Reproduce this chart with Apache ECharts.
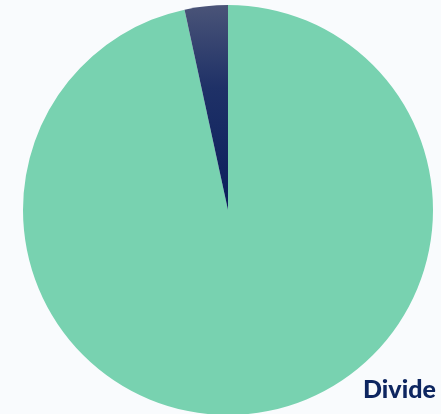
<!DOCTYPE html>
<html><head><meta charset="utf-8">
<script src="https://cdn.jsdelivr.net/npm/echarts@6/dist/echarts.min.js"></script>
<style>html,body{margin:0;padding:0;background:#f9fbfd;}#c{width:441px;height:414px;}</style>
</head><body><div id="c"></div>
<script>
const categories = ["Other", "Divide"];
const values = [96.6, 3.4];
const labelText = "Divide";
const chart = echarts.init(document.getElementById('c'));
const colors = [
  '#78d2b0',
  new echarts.graphic.LinearGradient(0, 0, 0, 1, [{offset: 0, color: '#4a5478'}, {offset: 0.4, color: '#1f3167'}, {offset: 1, color: '#0a1f5c'}])
];
chart.setOption({
  backgroundColor: '#f9fbfd',
  animation: false,
  title: {
    text: labelText, left: 358, top: 372, padding: 5,
    textStyle: {fontFamily: 'Lato', fontWeight: 900, fontSize: 25, color: '#0e2660'}
  },
  series: [{
    type: 'pie',
    center: [228, 210],
    radius: [0, 205],
    startAngle: 90,
    clockwise: true,
    label: {show: false},
    labelLine: {show: false},
    itemStyle: {borderWidth: 0},
    data: categories.map((c, i) => ({name: c, value: values[i], itemStyle: {color: colors[i]}}))
  }]
});
</script></body></html>
